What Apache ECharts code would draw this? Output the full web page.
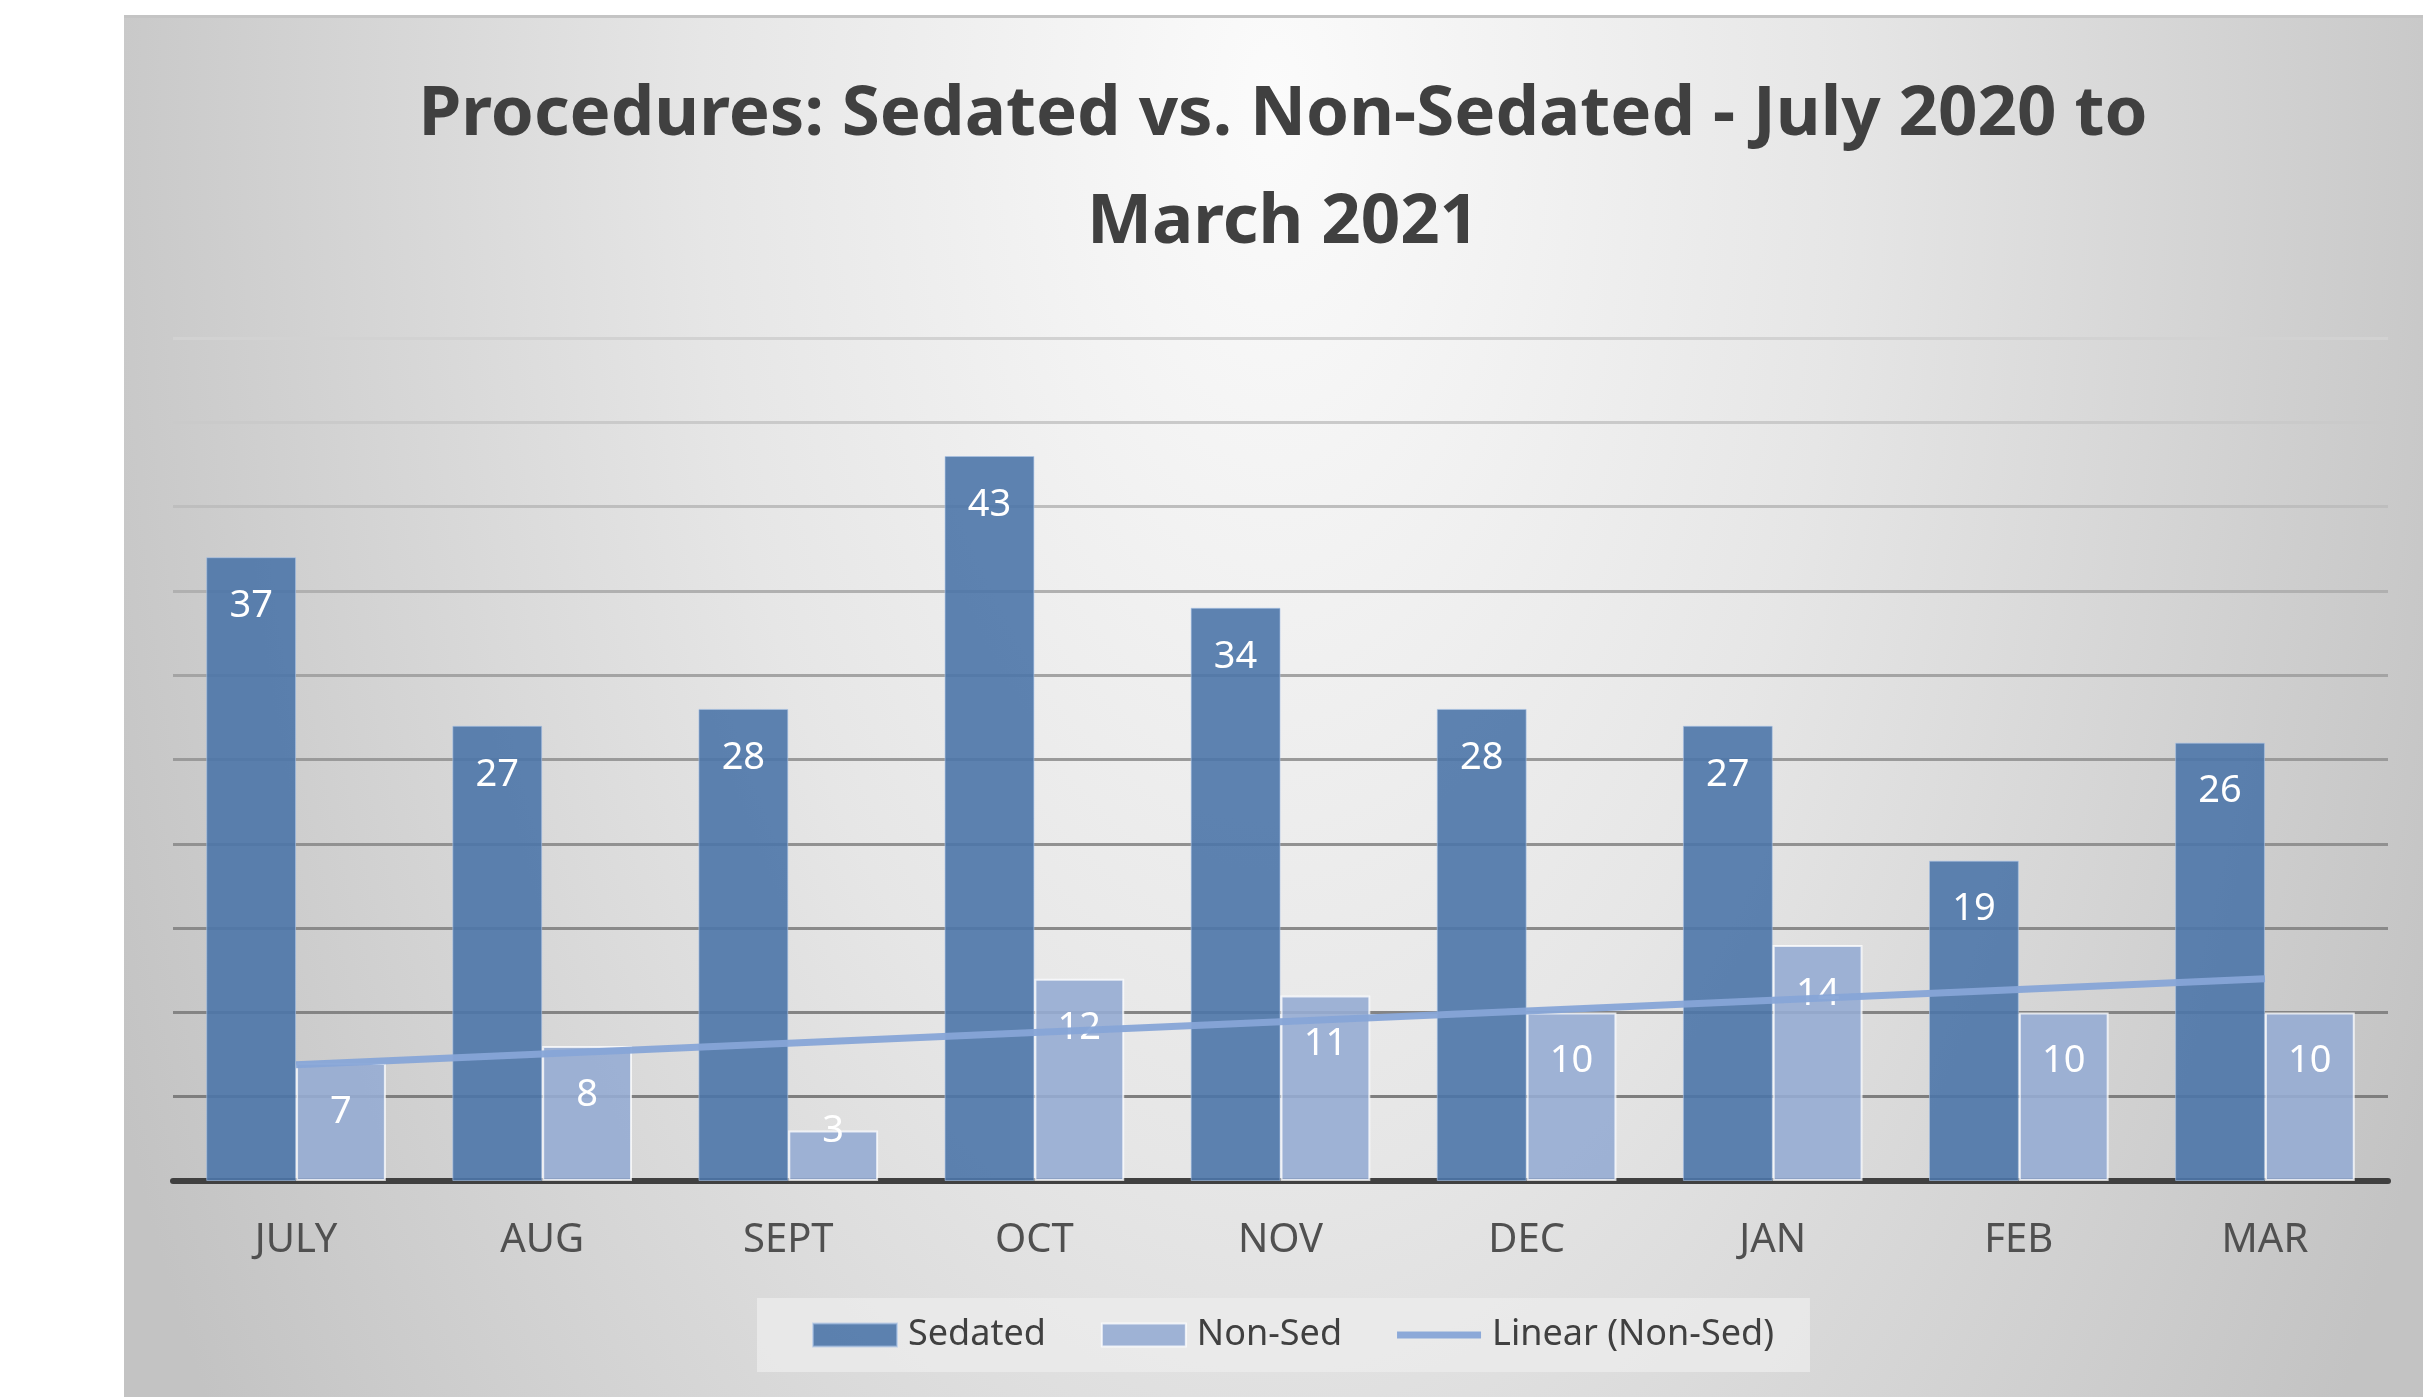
<!DOCTYPE html>
<html>
<head>
<meta charset="utf-8">
<title>Procedures: Sedated vs. Non-Sedated</title>
<script src="https://cdn.jsdelivr.net/npm/echarts/dist/echarts.min.js"></script>
<style>
  html, body { margin: 0; padding: 0; background: #fff; }
  body { width: 2423px; height: 1397px; position: relative; overflow: hidden; }
  #chart {
    position: absolute; left: 124px; top: 15px; width: 2299px; height: 1382px;
    border-top: 3px solid #c4c4c4;
    background: radial-gradient(ellipse 1270px 2400px at 50% 6%, #fbfbfb 0%, #e6e6e6 45%, #c3c3c3 100%);
  }
</style>
</head>
<body>
<div id="chart"></div>
<script>
// months on the x axis
const months = ['JULY', 'AUG', 'SEPT', 'OCT', 'NOV', 'DEC', 'JAN', 'FEB', 'MAR'];
// procedure counts
const sedated = [37, 27, 28, 43, 34, 28, 27, 19, 26];
const nonSed = [7, 8, 3, 12, 11, 10, 14, 10, 10];
// linear trend of Non-Sed, read at first and last month
const trendNonSed = [6.9, null, null, null, null, null, null, null, 12.0];
// value axis
const yMin = 0;
const yMax = 50;
const yStep = 5;

const FONT = "'Noto Sans', sans-serif";

// excel gridlines fade out towards the top
const gridColors = ['#555', '#7e7e7e', '#848484', '#8a8a8a', '#919191', '#9a9a9a',
  '#a4a4a4', '#b0b0b0', '#bebebe', '#cacaca', '#d2d2d2'];

const barLabel = {
  show: true,
  position: 'insideTop',
  distance: 30,
  color: '#fff',
  fontFamily: FONT,
  fontSize: 38
};

// short bars: label sits on the bar's top edge
const nonSedData = nonSed.map((v) => v < 5
  ? { value: v, label: { position: 'top', distance: -20 } }
  : v);

const chart = echarts.init(document.getElementById('chart'));
chart.setOption({
  backgroundColor: 'transparent',
  animation: false,
  title: {
    text: 'Procedures: Sedated vs. Non-Sedated - July 2020 to\nMarch 2021',
    left: 1159,
    top: 43,
    padding: 0,
    textAlign: 'center',
    textStyle: {
      fontFamily: FONT,
      fontWeight: 'bold',
      fontSize: 69,
      lineHeight: 108,
      color: '#404040'
    }
  },
  legend: {
    left: 633,
    top: 1280,
    padding: [19, 36, 19, 55],
    backgroundColor: 'rgba(236,236,236,0.75)',
    itemWidth: 84,
    itemHeight: 23,
    itemGap: 55,
    textStyle: { fontFamily: FONT, fontSize: 36, color: '#404040', padding: [0, 0, 0, 6] },
    data: [
      { name: 'Sedated', icon: 'rect' },
      { name: 'Non-Sed', icon: 'rect' },
      { name: 'Linear (Non-Sed)', icon: 'path://M0,0H84V7H0Z' }
    ]
  },
  grid: {
    left: 49,
    right: 35,
    top: 320,
    bottom: 219
  },
  xAxis: {
    type: 'category',
    data: months,
    axisLine: { lineStyle: { color: '#404040', width: 6 } },
    axisTick: { show: false },
    axisLabel: { fontFamily: FONT, fontSize: 40, color: '#505050', margin: 40 }
  },
  yAxis: {
    type: 'value',
    min: yMin,
    max: yMax,
    interval: yStep,
    axisLine: { show: false },
    axisTick: { show: false },
    axisLabel: { show: false },
    splitLine: { lineStyle: { color: gridColors, width: 3 } }
  },
  series: [
    {
      name: 'Sedated',
      type: 'bar',
      data: sedated,
      barGap: '0%',
      barCategoryGap: '27%',
      itemStyle: {
        color: 'rgba(77,118,169,0.9)',
        borderColor: 'rgba(170,195,230,0.6)',
        borderWidth: 1
      },
      label: barLabel,
      z: 2
    },
    {
      name: 'Non-Sed',
      type: 'bar',
      data: nonSedData,
      itemStyle: {
        color: 'rgba(150,172,211,0.9)',
        borderColor: 'rgba(255,255,255,0.75)',
        borderWidth: 2
      },
      label: barLabel,
      z: 2
    },
    {
      name: 'Linear (Non-Sed)',
      type: 'line',
      data: trendNonSed,
      connectNulls: true,
      symbol: 'none',
      lineStyle: { color: 'rgba(135,165,215,0.95)', width: 7 },
      itemStyle: { color: 'rgba(135,165,215,0.95)' },
      z: 5
    }
  ]
});
</script>
</body>
</html>
